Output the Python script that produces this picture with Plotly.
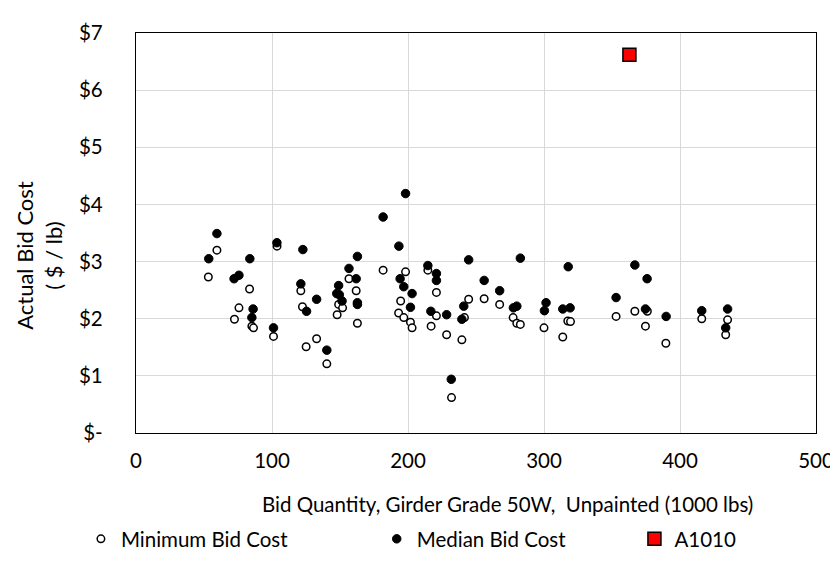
import plotly.graph_objects as go

# Minimum Bid Cost (open circles)
min_qty = [53.2, 59.5, 72.4, 75.7, 83.5, 85.2, 86.4, 101.1, 103.7, 121.2, 122.4, 125.1,
           132.8, 140.3, 147.9, 149.0, 151.9, 156.6, 161.9, 162.8, 181.7, 193.1, 194.6,
           196.9, 198.2, 201.8, 203.0, 214.6, 217.0, 220.9, 220.9, 228.4, 232.0, 239.6,
           241.5, 244.6, 256.0, 267.4, 277.3, 280.0, 282.6, 300.0, 313.8, 317.5, 319.5,
           353.0, 366.8, 374.6, 376.0, 389.6, 416.0, 433.6, 435.0]
min_cost = [2.73, 3.20, 1.99, 2.19, 2.52, 1.87, 1.84, 1.69, 3.27, 2.49, 2.21, 1.51,
            1.65, 1.21, 2.07, 2.25, 2.19, 2.70, 2.49, 1.92, 2.85, 2.10, 2.31,
            2.02, 2.82, 1.94, 1.84, 2.85, 1.87, 2.46, 2.05, 1.72, 0.62, 1.63,
            2.02, 2.34, 2.35, 2.25, 2.02, 1.92, 1.90, 1.84, 1.68, 1.96, 1.95,
            2.04, 2.13, 1.87, 2.13, 1.57, 2.00, 1.72, 1.98]

# Median Bid Cost (filled circles)
med_qty = [53.5, 59.5, 72.1, 75.7, 83.7, 85.2, 86.1, 101.1, 103.6, 121.2, 122.7, 125.4,
           132.8, 140.3, 147.6, 149.0, 149.5, 151.5, 156.6, 161.9, 162.8, 162.8, 162.8,
           181.7, 193.3, 194.2, 196.9, 198.2, 201.8, 203.0, 214.6, 216.8, 220.9, 220.9,
           228.4, 231.8, 239.6, 241.0, 244.6, 256.0, 267.4, 277.5, 280.0, 282.6, 300.3,
           301.5, 313.8, 317.8, 319.2, 353.0, 366.8, 374.6, 375.8, 389.8, 416.0, 433.6, 435.0]
med_cost = [3.05, 3.49, 2.70, 2.76, 3.05, 2.02, 2.17, 1.84, 3.33, 2.61, 3.21, 2.13,
            2.34, 1.45, 2.44, 2.58, 2.42, 2.31, 2.88, 2.70, 3.09, 2.28, 2.25,
            3.78, 3.27, 2.70, 2.56, 4.19, 2.20, 2.44, 2.93, 2.13, 2.79, 2.67,
            2.07, 0.94, 1.99, 2.22, 3.03, 2.67, 2.49, 2.19, 2.22, 3.06, 2.14,
            2.28, 2.17, 2.91, 2.19, 2.37, 2.94, 2.17, 2.70, 2.04, 2.14, 1.84, 2.17]

# A1010
a_qty = [362.8]
a_cost = [6.62]

y_tickvals = [0, 1, 2, 3, 4, 5, 6, 7]
y_ticktext = ["$-", "$1", "$2", "$3", "$4", "$5", "$6", "$7"]
x_tickvals = [0, 100, 200, 300, 400, 500]

x_title = "Bid Quantity, Girder Grade 50W,  Unpainted (1000 lbs)"
y_title = "Actual Bid Cost<br>( $ / lb)"

FONT = "Lato, Carlito, Calibri, sans-serif"
FS = 20.5
FS_Y = 22

fig = go.Figure()
fig.add_trace(go.Scatter(
    x=min_qty, y=min_cost, mode="markers", name="Minimum Bid Cost", legend="legend",
    marker=dict(symbol="circle", size=7.5, color="white",
                line=dict(color="black", width=1.5))))
fig.add_trace(go.Scatter(
    x=med_qty, y=med_cost, mode="markers", name="Median Bid Cost", legend="legend2",
    marker=dict(symbol="circle", size=8.5, color="black",
                line=dict(color="black", width=1))))
fig.add_trace(go.Scatter(
    x=a_qty, y=a_cost, mode="markers", name="A1010", legend="legend3",
    marker=dict(symbol="square", size=13, color="#ff0000",
                line=dict(color="black", width=1.5))))

leg_common = dict(orientation="h", y=-0.265, yanchor="middle", xanchor="left",
                  font=dict(family=FONT, size=FS, color="black"),
                  bgcolor="rgba(0,0,0,0)", itemsizing="trace")

fig.update_layout(
    width=838, height=563,
    margin=dict(l=128, r=21, t=18, b=136),
    paper_bgcolor="white", plot_bgcolor="white",
    font=dict(family=FONT, size=FS, color="#000000"),
    showlegend=True,
    legend=dict(x=-0.081, **leg_common),
    legend2=dict(x=0.354, **leg_common),
    legend3=dict(x=0.733, **leg_common),
    xaxis=dict(range=[0, 500], tickvals=x_tickvals, showgrid=True,
               gridcolor="#d9d9d9", gridwidth=1.3, zeroline=False,
               showline=True, linecolor="black", linewidth=1.3, mirror=True,
               ticks="", tickfont=dict(size=FS), ticklabelstandoff=9),
    yaxis=dict(range=[0, 7], tickvals=y_tickvals, ticktext=y_ticktext, showgrid=True,
               gridcolor="#d9d9d9", gridwidth=1.3, zeroline=False,
               showline=True, linecolor="black", linewidth=1.3, mirror=True,
               ticks="", tickfont=dict(size=FS), ticklabelstandoff=28),
    annotations=[
        dict(text=x_title, xref="paper", yref="paper", x=0.547, y=-0.178,
             xanchor="center", yanchor="middle", showarrow=False,
             font=dict(family=FONT, size=FS, color="black")),
        dict(text=y_title, xref="paper", yref="paper", x=-0.142, y=0.444,
             xanchor="center", yanchor="middle", showarrow=False, textangle=-90,
             font=dict(family=FONT, size=FS_Y, color="black")),
    ],
)

fig.write_html("out.html")
